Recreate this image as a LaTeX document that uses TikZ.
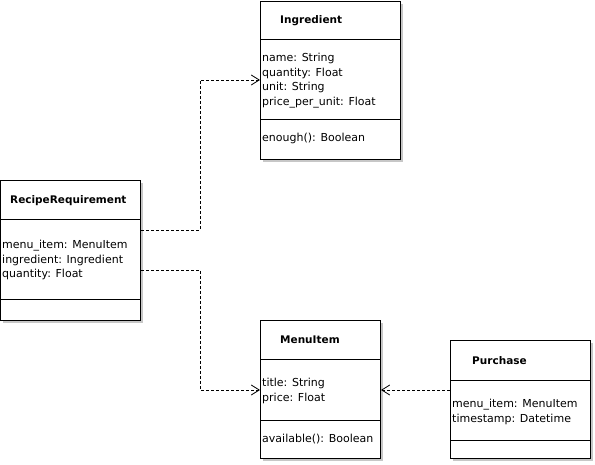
\documentclass[tikz,border=0pt]{standalone}
\usepackage{fontspec}
\setmainfont{DejaVu Sans}
\usetikzlibrary{arrows.meta,calc}
\begin{document}
\begin{tikzpicture}[x=1pt,y=-1pt,
  box/.style={draw=black,line width=1pt,fill=white,inner sep=0pt,anchor=north west},
  shade/.style={fill=black!22,draw=none},
  sep/.style={draw=black,line width=1pt},
  ttl/.style={font=\fontsize{10.5}{12}\selectfont\bfseries,anchor=base west,inner sep=0pt},
  attr/.style={font=\fontsize{11}{12}\selectfont,anchor=base west,inner sep=0pt},
  dep/.style={line width=0.8pt,dash pattern=on 3pt off 2pt,-{Straight Barb[length=8pt,width=10pt]}}]
\useasboundingbox (0,0) rectangle (595,465);

% RecipeRequirement
\fill[shade] (3,183) rectangle (143,323);
\node[box,minimum width=140pt,minimum height=140pt] (rr) at (0,180) {};
\draw[sep] ($(rr.north west)+(0,40)$) -- ($(rr.north east)+(0,40)$);
\draw[sep] ($(rr.north west)+(0,120)$) -- ($(rr.north east)+(0,120)$);
\node[ttl] (rrt) at ($(rr.north west)+(10,24)$) {RecipeRequirement};
\node[attr] (rra1) at ($(rr.north west)+(2,69)$) {menu\_item: MenuItem};
\node[attr] (rra2) at ($(rr.north west)+(2,83.5)$) {ingredient: Ingredient};
\node[attr] (rra3) at ($(rr.north west)+(2,98)$) {quantity: Float};

% Ingredient
\fill[shade] (263,4) rectangle (403,162);
\node[box,minimum width=140pt,minimum height=158pt] (ing) at (260,1) {};
\draw[sep] ($(ing.north west)+(0,39)$) -- ($(ing.north east)+(0,39)$);
\draw[sep] ($(ing.north west)+(0,119)$) -- ($(ing.north east)+(0,119)$);
\node[ttl] (ingt) at ($(ing.north west)+(20,23)$) {Ingredient};
\node[attr] (inga1) at ($(ing.north west)+(2,61)$) {name: String};
\node[attr] (inga2) at ($(ing.north west)+(2,75.5)$) {quantity: Float};
\node[attr] (inga3) at ($(ing.north west)+(2,90)$) {unit: String};
\node[attr] (inga4) at ($(ing.north west)+(2,104.5)$) {price\_per\_unit: Float};
\node[attr] (ingm1) at ($(ing.north west)+(2,141)$) {enough(): Boolean};

% MenuItem
\fill[shade] (263,323) rectangle (383,461);
\node[box,minimum width=120pt,minimum height=138pt] (mi) at (260,320) {};
\draw[sep] ($(mi.north west)+(0,40)$) -- ($(mi.north east)+(0,40)$);
\draw[sep] ($(mi.north west)+(0,100)$) -- ($(mi.north east)+(0,100)$);
\node[ttl] (mit) at ($(mi.north west)+(20,24)$) {MenuItem};
\node[attr] (mia1) at ($(mi.north west)+(2,66)$) {title: String};
\node[attr] (mia2) at ($(mi.north west)+(2,81)$) {price: Float};
\node[attr] (mim1) at ($(mi.north west)+(2,122)$) {available(): Boolean};

% Purchase
\fill[shade] (453,343) rectangle (593,461);
\node[box,minimum width=140pt,minimum height=118pt] (pu) at (450,340) {};
\draw[sep] ($(pu.north west)+(0,40)$) -- ($(pu.north east)+(0,40)$);
\draw[sep] ($(pu.north west)+(0,100)$) -- ($(pu.north east)+(0,100)$);
\node[ttl] (put) at ($(pu.north west)+(22,24)$) {Purchase};
\node[attr] (pua1) at ($(pu.north west)+(2,67)$) {menu\_item: MenuItem};
\node[attr] (pua2) at ($(pu.north west)+(2,82)$) {timestamp: Datetime};

% connectors
\coordinate (c1s) at ($(rr.north east)+(0,50)$);
\coordinate (c1e) at ($(ing.north west)+(0,79)$);
\coordinate (c2s) at ($(rr.north east)+(0,90)$);
\coordinate (c2e) at ($(mi.north west)+(0,70)$);
\coordinate (c3s) at ($(pu.north west)+(0,50)$);
\coordinate (c3e) at ($(mi.north east)+(0,70)$);
\draw[dep] (c1s) -- (c1s -| 200,0) |- (c1e);
\draw[dep] (c2s) -- (c2s -| 200,0) |- (c2e);
\draw[dep] (c3s) -- (c3e);
\end{tikzpicture}
\end{document}
